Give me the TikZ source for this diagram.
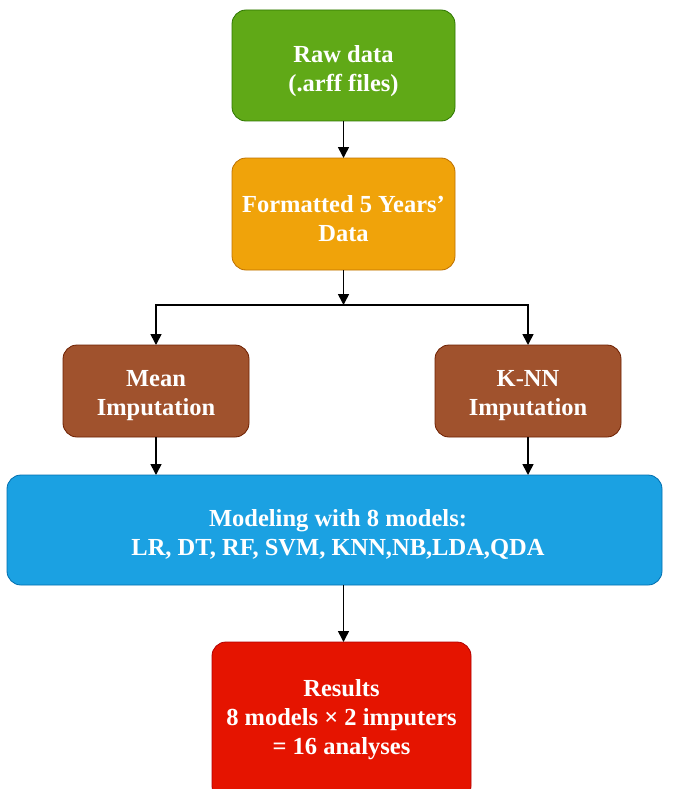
\documentclass[tikz,border=0pt]{standalone}
\usepackage{fontspec}
\setmainfont{Liberation Serif}
\usetikzlibrary{arrows.meta}
\definecolor{cgreen}{HTML}{60A917}\definecolor{cgreenB}{HTML}{2D7600}
\definecolor{corange}{HTML}{F0A30A}\definecolor{corangeB}{HTML}{BD7000}
\definecolor{cbrown}{HTML}{A0522D}\definecolor{cbrownB}{HTML}{6D1F00}
\definecolor{cblue}{HTML}{1BA1E2}\definecolor{cblueB}{HTML}{006EAF}
\definecolor{cred}{HTML}{E51400}\definecolor{credB}{HTML}{B20000}
\begin{document}
\begin{tikzpicture}[x=1pt,y=-1pt,
  box/.style={rounded corners=14pt, line width=0.8pt, text=white, align=center,
    font=\fontsize{24.5}{29}\selectfont\bfseries},
  conn/.style={line width=1.6pt, -{Triangle[length=11pt,width=11pt]}}]
\useasboundingbox (0,0) rectangle (674,789);
\path[box, fill=cgreen, draw=cgreenB] (232,10) rectangle (455,121);
\node[box] (raw) at (343.5,71) {Raw data\\(.arff files)};
\path[box, fill=corange, draw=corangeB] (232,158) rectangle (455,270);
\node[box] (fmt) at (343.5,219) {Formatted 5 Years’\\Data};
\path[box, fill=cbrown, draw=cbrownB] (63,345) rectangle (249,437);
\node[box] (mean) at (156,396) {Mean\\Imputation};
\path[box, fill=cbrown, draw=cbrownB] (435,345) rectangle (621,437);
\node[box] (knn) at (528,396) {K-NN\\Imputation};
\path[box, fill=cblue, draw=cblueB] (7,475) rectangle (662,585);
\node[box] (mod) at (338,534) {Modeling with 8 models:\\LR, DT, RF, SVM, KNN,NB,LDA,QDA};
\path[box, fill=cred, draw=credB] (212,642) rectangle (471,800);
\node[box] (res) at (341.5,720) {Results\\8 models × 2 imputers\\= 16 analyses};
\coordinate (j) at (343.5,305);
\draw[conn] (343.5,121) -- (343.5,158);
\draw[conn] (343.5,270) -- (j);
\draw[conn] (j) -| (156,345);
\draw[conn] (j) -| (528,345);
\draw[conn] (156,437) -- (156,475);
\draw[conn] (528,437) -- (528,475);
\draw[conn] (343.5,585) -- (343.5,642);
\end{tikzpicture}
\end{document}
